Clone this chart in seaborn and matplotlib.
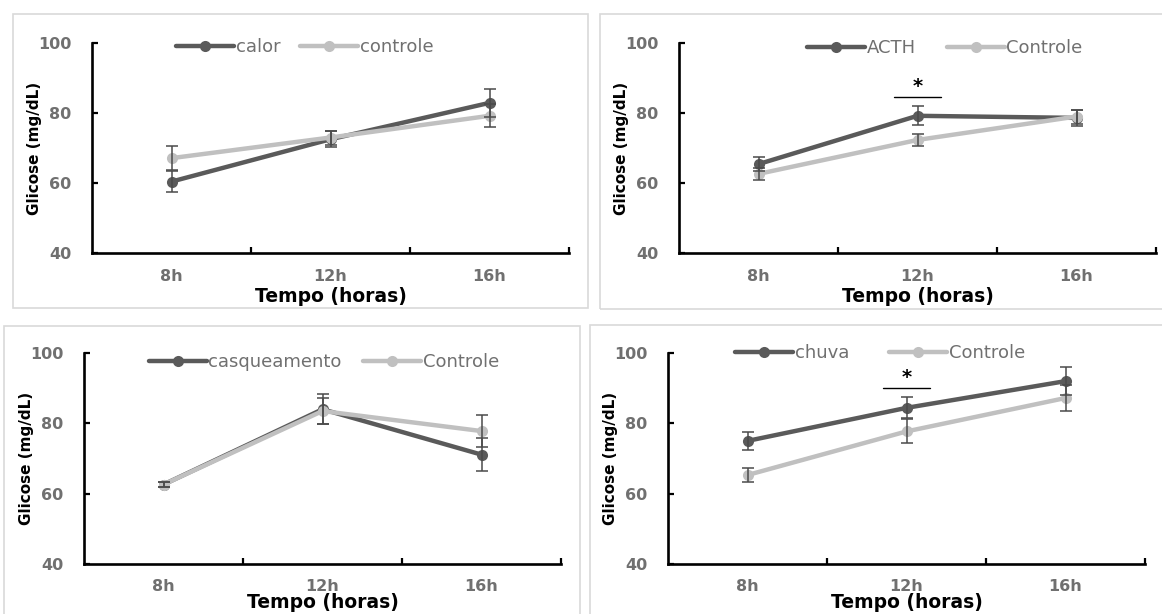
import numpy as np
import pandas as pd
import matplotlib
matplotlib.use("Agg")
import matplotlib.pyplot as plt
from matplotlib.lines import Line2D
from matplotlib.patches import Rectangle
from matplotlib.ticker import FixedLocator
import seaborn as sns

# ---- data -------------------------------------------------------------
times = ["8h", "12h", "16h"]

calor_mean = [60.4, 72.5, 82.9]
calor_err = [2.9, 2.3, 4.0]
controle1_mean = [67.1, 73.0, 79.2]
controle1_err = [3.5, 2.0, 3.3]

acth_mean = [65.4, 79.2, 78.6]
acth_err = [2.0, 2.7, 2.3]
controle2_mean = [62.6, 72.3, 79.0]
controle2_err = [1.7, 1.8, 2.0]

casq_mean = [62.6, 84.0, 71.1]
casq_err = [0.8, 4.2, 4.6]
controle3_mean = [62.6, 83.5, 77.8]
controle3_err = [0.8, 3.7, 4.5]

chuva_mean = [75.0, 84.4, 92.0]
chuva_err = [2.5, 3.0, 4.0]
controle4_mean = [65.3, 77.7, 87.2]
controle4_err = [2.1, 3.4, 3.8]

group_names = [("calor", "controle"), ("ACTH", "Controle"),
               ("casqueamento", "Controle"), ("chuva", "Controle")]
means = [(calor_mean, controle1_mean), (acth_mean, controle2_mean),
         (casq_mean, controle3_mean), (chuva_mean, controle4_mean)]
errors = [(calor_err, controle1_err), (acth_err, controle2_err),
          (casq_err, controle3_err), (chuva_err, controle4_err)]
significant_at = [None, "12h", None, "12h"]

# ---- style ------------------------------------------------------------
W, H = 1162, 614
DARK = "#5a5a5a"
LIGHT = "#c0c0c0"
TICK_GREY = "#707070"

sns.set_theme(style="white")
plt.rcParams["font.family"] = ["DejaVu Sans"]

fig = plt.figure(figsize=(W / 100, H / 100), dpi=100)


def px_box(l, t, r, b):
    return [l / W, 1 - b / H, (r - l) / W, (b - t) / H]


axes_px = [(92, 43, 569, 253), (679, 43, 1156, 253),
           (84, 353, 561, 564), (668, 353, 1145, 564)]
frames_px = [(13, 14, 588, 308), (600, 14, 1175, 309),
             (4, 326, 580, 640), (590, 325, 1175, 640)]
legend_px = [(305, 47, 1.1), (945, 48, 1.7), (324, 362, 1.2), (880, 353, 2.2)]
xlabel_y = [-0.205, -0.205, -0.183, -0.183]
xtick_pad = [11.5, 11.5, 10.5, 10.5]

# light grey chart-area frames
for (l, t, r, b) in frames_px:
    x0, y0, w, h = px_box(l, t, r, b)
    fig.add_artist(Rectangle((x0, y0), w, h, transform=fig.transFigure,
                             fill=False, ec="#d9d9d9", lw=1.2))

for i in range(4):
    ax = fig.add_axes(px_box(*axes_px[i]))
    name_a, name_b = group_names[i]
    mean_a, mean_b = means[i]
    err_a, err_b = errors[i]

    df = pd.DataFrame({
        "tempo": times * 2,
        "glicose": list(mean_a) + list(mean_b),
        "grupo": [name_a] * len(times) + [name_b] * len(times),
    })
    sns.lineplot(data=df, x="tempo", y="glicose", hue="grupo",
                 hue_order=[name_a, name_b], palette=[DARK, LIGHT],
                 marker="o", markersize=8, markeredgewidth=0, linewidth=3.2,
                 sort=False, legend=False, ax=ax)
    # standard error bars
    for m, e in ((mean_a, err_a), (mean_b, err_b)):
        ax.errorbar(times, m, yerr=e, fmt="none", ecolor="#4a4a4a",
                    elinewidth=1.1, capsize=4.5, capthick=1.1, zorder=4)

    # significance bracket
    if significant_at[i] is not None:
        k = times.index(significant_at[i])
        top = max(mean_a[k] + err_a[k], mean_b[k] + err_b[k])
        yb = top + 2.7
        ax.plot([k - 0.15, k + 0.15], [yb, yb], color="black", lw=1.0)
        ax.text(k, yb + 0.3, "*", ha="center", va="bottom",
                fontsize=14, fontweight="bold", color="black")

    # axes
    ax.set_ylim(40, 100)
    ax.set_xlim(-0.5, len(times) - 0.5)
    ax.set_yticks([40, 60, 80, 100])
    ax.xaxis.set_minor_locator(FixedLocator([0.5, 1.5, 2.5]))
    for side in ("top", "right"):
        ax.spines[side].set_visible(False)
    for side in ("left", "bottom"):
        ax.spines[side].set_color("black")
        ax.spines[side].set_linewidth(1.9)
    ax.tick_params(axis="y", which="major", direction="in", length=4,
                   width=1.6, color="black", pad=15, labelsize=11.5,
                   labelcolor=TICK_GREY, left=True)
    ax.tick_params(axis="x", which="major", length=0, pad=xtick_pad[i],
                   labelsize=11.5, labelcolor=TICK_GREY, bottom=True)
    ax.tick_params(axis="x", which="minor", direction="in", length=4,
                   width=1.6, color="black", bottom=True)
    for lab in ax.get_xticklabels() + ax.get_yticklabels():
        lab.set_fontweight("bold")

    ax.set_xlabel("Tempo (horas)", fontsize=13.5, fontweight="bold",
                  color="black")
    ax.xaxis.set_label_coords(0.5, xlabel_y[i])
    ax.xaxis.label.set_va("center")
    ax.set_ylabel("Glicose (mg/dL)", fontsize=11, fontweight="bold",
                  color="black")
    ax.yaxis.set_label_coords(-0.12, 0.5)
    ax.yaxis.label.set_va("center")

    # legend
    handles = [Line2D([], [], color=c, lw=3.2, marker="o", markersize=8,
                      markeredgewidth=0) for c in (DARK, LIGHT)]
    lx, ly, cs = legend_px[i]
    leg = ax.legend(handles, [name_a, name_b], loc="center",
                    bbox_to_anchor=(lx / W, 1 - ly / H),
                    bbox_transform=fig.transFigure, ncol=2, frameon=False,
                    fontsize=13, handlelength=3.2, handletextpad=0.1,
                    columnspacing=cs, borderpad=0.2)
    for t in leg.get_texts():
        t.set_color(TICK_GREY)

fig.savefig("out.png", dpi=100, facecolor="white")
